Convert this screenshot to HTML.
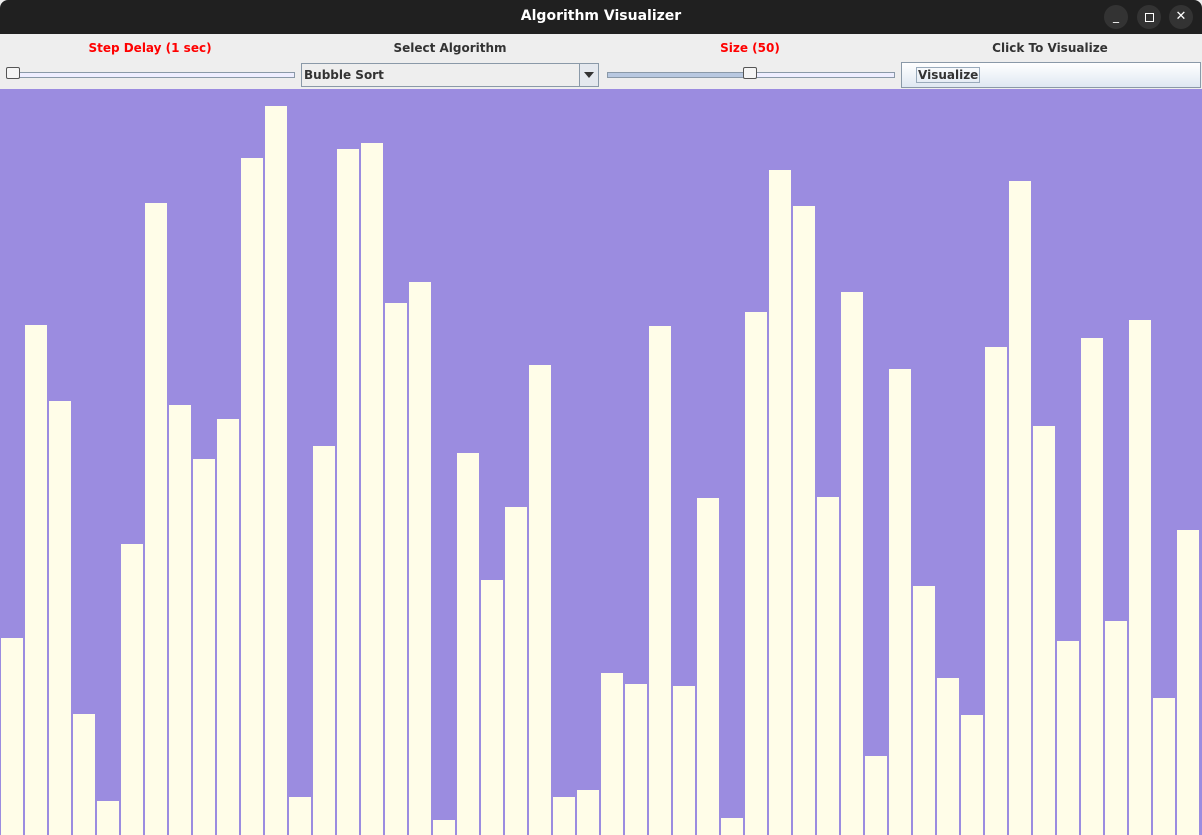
<!DOCTYPE html>
<html><head><meta charset="utf-8"><style>
body{margin:0;width:1202px;height:835px;overflow:hidden;font-family:"DejaVu Sans","Liberation Sans",sans-serif;background:#eee;position:relative}
.abs{position:absolute}
.lbl{position:absolute;top:41px;font-size:12px;font-weight:bold;text-align:center;width:300px}
</style></head><body>
<div class="abs" style="left:0;top:0;width:1202px;height:34px;background:#202020;border-radius:8px 8px 0 0">
 <div class="abs" style="left:0;width:1202px;top:8px;text-align:center;color:#fff;font-size:14px;font-weight:bold">Algorithm Visualizer</div>
 <div class="abs" style="left:1104px;top:5px;width:24px;height:24px;border-radius:12px;background:#333;color:#fff;font-size:12px;text-align:center;line-height:22px">_</div>
 <div class="abs" style="left:1137px;top:5px;width:24px;height:24px;border-radius:12px;background:#333"><div class="abs" style="left:8px;top:8px;width:7px;height:7px;border:1px solid #fff"></div></div>
 <div class="abs" style="left:1169px;top:5px;width:24px;height:24px;border-radius:12px;background:#333;color:#fff;font-size:13px;text-align:center;line-height:24px">✕</div>
</div>
<div class="lbl" style="left:0;color:#f00">Step Delay (1 sec)</div>
<div class="lbl" style="left:300px;color:#333">Select Algorithm</div>
<div class="lbl" style="left:600px;color:#f00">Size (50)</div>
<div class="lbl" style="left:900px;color:#333">Click To Visualize</div>
<div class="abs" style="left:7px;top:72px;width:286px;height:4px;border:1px solid #8a99a8;background:#eef"></div>
<div class="abs" style="left:6px;top:67px;width:12px;height:10px;border:1px solid #555;background:#f5f5f5;border-radius:2px"></div>
<div class="abs" style="left:301px;top:63px;width:298px;height:24px;border:1px solid #8a99a8;background:#eee;box-sizing:border-box">
 <div class="abs" style="left:2px;top:4px;font-size:12px;font-weight:bold;color:#333">Bubble Sort</div>
 <div class="abs" style="right:0;top:0;width:18px;height:22px;border-left:1px solid #8a99a8;background:#e4e8ee"><div class="abs" style="left:4px;top:8px;border-left:5px solid transparent;border-right:5px solid transparent;border-top:6px solid #333"></div></div>
</div>
<div class="abs" style="left:607px;top:72px;width:286px;height:4px;border:1px solid #8a99a8;background:linear-gradient(90deg,#b8c8e0 50%,#eef 50%)"></div>
<div class="abs" style="left:743px;top:67px;width:12px;height:10px;border:1px solid #555;background:#f5f5f5;border-radius:2px"></div>
<div class="abs" style="left:901px;top:62px;width:300px;height:26px;border:1px solid #8a99a8;box-sizing:border-box;background:linear-gradient(#fff,#dfe8f2)">
 <div class="abs" style="left:14px;top:4px;border:1px solid #9ab;padding:0 1px;font-size:12px;font-weight:bold;color:#333">Visualize</div>
</div>
<svg class="abs" style="left:0;top:89px" width="1202" height="746" id="cv"></svg>
<script>
const values=[197,510,434,121,34,291,632,430,376,416,677,729,38,389,686,692,532,553,15,382,255,328,470,38,45,162,151,509,149,337,17,523,665,629,338,543,79,466,249,157,120,488,654,409,194,497,214,515,137,305];
const H=746, ns="http://www.w3.org/2000/svg", sv=document.getElementById('cv');
const bg=document.createElementNS(ns,'rect');


bg.setAttribute('width',1202);bg.setAttribute('height',H);bg.setAttribute('fill','#9b8ce0');sv.appendChild(bg);
const step=24, bw=22;
function xs(i){return 1+i*step;}
function ys(v){return H-v;}
values.forEach((v,i)=>{
 const r=document.createElementNS(ns,'rect');
 
 
 r.setAttribute('x',xs(i));r.setAttribute('y',ys(v));r.setAttribute('width',bw);r.setAttribute('height',v);r.setAttribute('fill','#fffde8');
 sv.appendChild(r);
});
</script>
</body></html>
